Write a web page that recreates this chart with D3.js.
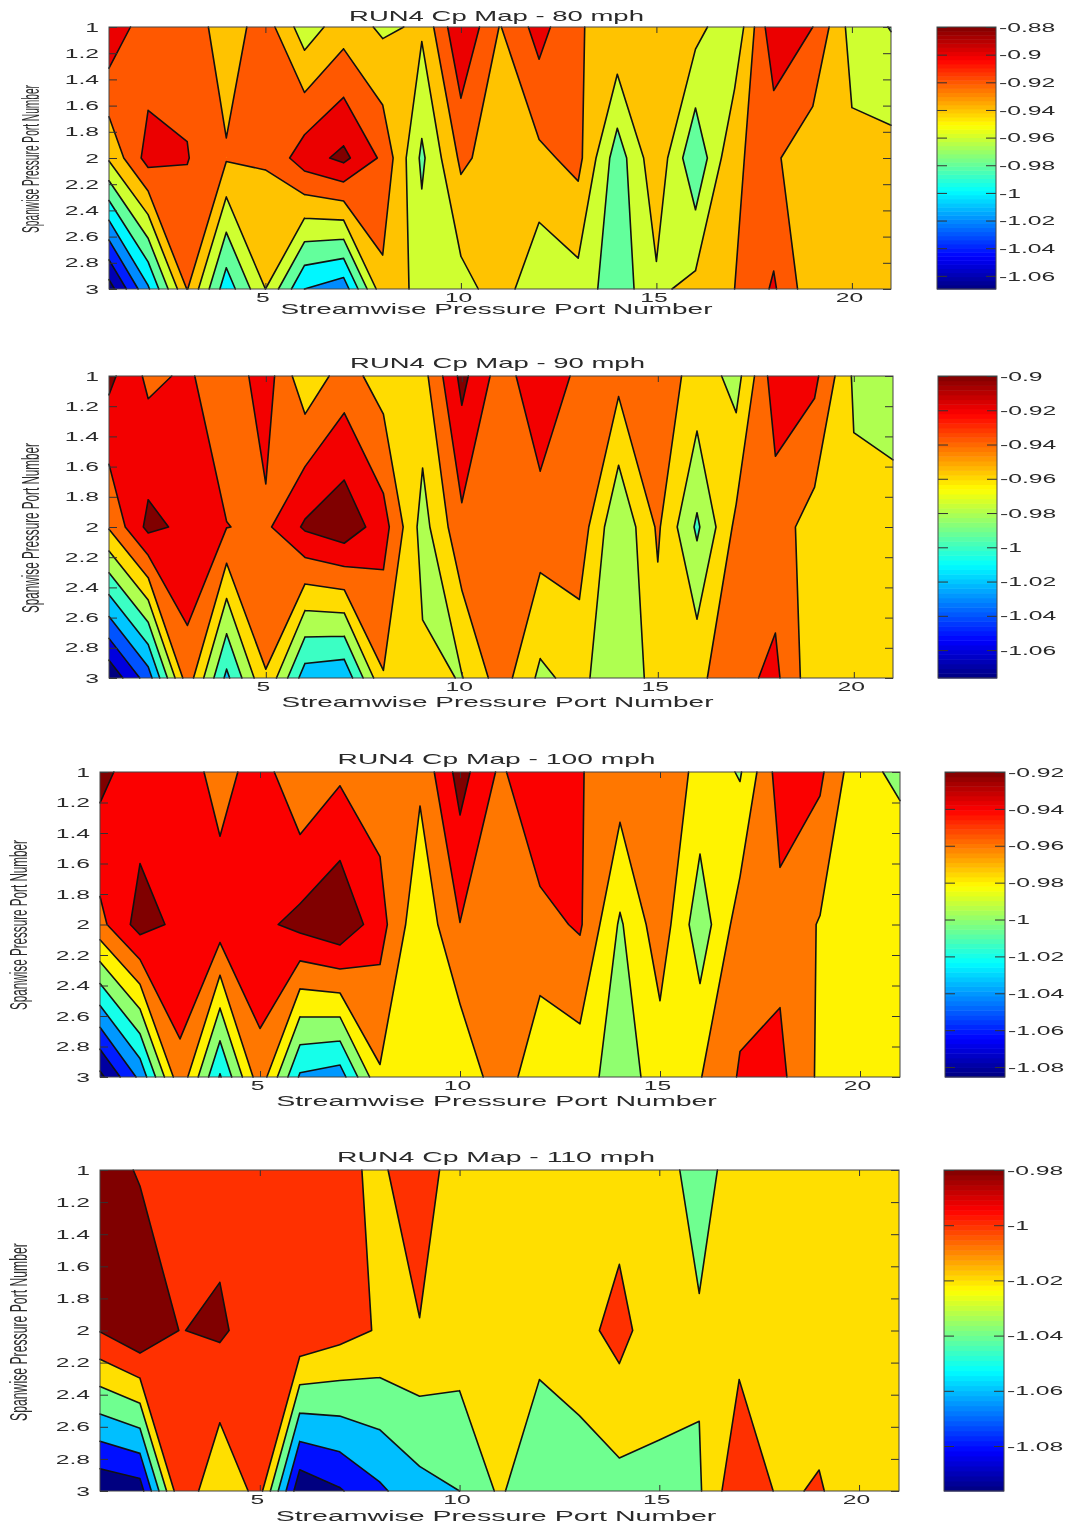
<!DOCTYPE html>
<html>
<head>
<meta charset="utf-8">
<script src="https://cdn.jsdelivr.net/npm/d3@7"></script>
<style>
body { margin: 0; background: #fff; }
svg { display: block; filter: blur(0.35px); }
text { font-family: "Liberation Sans", Arial, sans-serif; fill: #2a2a2a; }
.domain { display: none; }
.tick line { stroke: #333; }
</style>
</head>
<body>
<svg id="chart"></svg>
<script>
const width = 1076
const height = 1529

// Cp, rows are spanwise 1, 2, 3 and columns are ports 1-21
const cp80 = [
    [-.883,-.914,-.907,-.931,-.91,-.951,-.929,-.9435,-.937,-.881,-.921,-.892,-.9195,-.9225,-.93,-.9325,-.957,-.884,-.90,-.948,-.961],
    [-.937,-.892,-.899,-.918,-.918,-.889,-.875,-.904,-.964,-.916,-.93,-.9246,-.914,-.971,-.925,-.977,-.921,-.917,-.933,-.935,-.933],
    [-1.0695,-1.003,-.919,-.992,-.94,-1.0,-1.012,-.9256,-.947,-.948,-.93,-.956,-.948,-.972,-.944,-.934,-.92,-.8973,-.9345,-.935,-.935]
]
const cp90 = [
    [-.8946,-.9245,-.917,-.933,-.91,-.9545,-.931,-.9496,-.9475,-.894,-.93,-.904,-.925,-.934,-.93,-.9465,-.968,-.908,-.915,-.963,-.975],
    [-.938,-.8946,-.905,-.9195,-.924,-.897,-.886,-.9115,-.968,-.925,-.93,-.9294,-.928,-.978,-.937,-.9835,-.935,-.9306,-.949,-.955,-.948],
    [-1.0763,-1.03,-.928,-1.005,-.941,-1.011,-1.016,-.9415,-.955,-.961,-.93,-.9645,-.953,-.979,-.95,-.945,-.926,-.9155,-.954,-.955,-.95]
]
const cp100 = [
    [-.9134,-.9325,-.928,-.948,-.93,-.958,-.9437,-.95,-.9555,-.912,-.9435,-.922,-.939,-.9488,-.945,-.966,-.982,-.93,-.936,-.976,-.983],
    [-.946,-.9117,-.925,-.929,-.925,-.914,-.9029,-.932,-.9757,-.9404,-.95,-.946,-.9376,-.9827,-.948,-.992,-.95,-.946,-.9615,-.97,-.967],
    [-1.0854,-1.035,-.945,-1.022,-.947,-1.023,-1.03,-.9625,-.97,-.978,-.947,-.976,-.972,-.9888,-.972,-.961,-.938,-.935,-.964,-.97,-.97]
]
const cp110 = [
    [-.97,-.982,-.99,-.987,-.99,-.99,-.995,-1.004,-.985,-1.015,-1.015,-1.015,-1.015,-1.01,-1.0095,-1.03,-1.008,-1.01,-1.012,-1.012,-1.012],
    [-.979,-.962,-.9805,-.977,-.99,-.9817,-.992,-1.002,-1.0013,-1.008,-1.012,-1.0125,-1.007,-.993,-1.014,-1.017,-1.0075,-1.01,-1.012,-1.012,-1.012],
    [-1.0963,-1.09,-.985,-1.017,-.993,-1.095,-1.082,-1.0635,-1.047,-1.04,-1.017,-1.037,-1.0315,-1.027,-1.0228,-1.0223,-.983,-1.003,-.9982,-1.012,-1.012]
]

// contour levels, also the colorbar ticks
const levels80 = [-0.88,-0.9,-0.92,-0.94,-0.96,-0.98,-1,-1.02,-1.04,-1.06]
const levels90 = [-0.9,-0.92,-0.94,-0.96,-0.98,-1,-1.02,-1.04,-1.06]
const levels100 = [-0.92,-0.94,-0.96,-0.98,-1,-1.02,-1.04,-1.06,-1.08]
const levels110 = [-0.98,-1,-1.02,-1.04,-1.06,-1.08]

// saddle cells the reference splits against the cell mean: [column, row, level], zero based
const flips90 = [[8, 1, -0.96]]

const xTicks = [5, 10, 15, 20]
const yTicks = [1, 1.2, 1.4, 1.6, 1.8, 2, 2.2, 2.4, 2.6, 2.8, 3]
const titles = [
    'RUN4 Cp Map - 80 mph',
    'RUN4 Cp Map - 90 mph',
    'RUN4 Cp Map - 100 mph',
    'RUN4 Cp Map - 110 mph'
]

const xLabel = 'Streamwise Pressure Port Number'
const yLabel = 'Spanwise Pressure Port Number'

const grids = [cp80, cp90, cp100, cp110]
const levelSets = [levels80, levels90, levels100, levels110]
const flipSets = [[], flips90, [], []]

// where each panel sits on the page
const layout = [
    {l: 109, r: 891, t: 27, b: 289, cbL: 937, cbR: 996, yLabX: 31, yLabLen: 148, yLabC: 159, titleW: 295, xLabW: 432, titleY: 16, xLabY: 309},
    {l: 109, r: 893, t: 376, b: 678, cbL: 938, cbR: 997, yLabX: 31, yLabLen: 170, yLabC: 528, titleW: 295, xLabW: 432, titleY: 363, xLabY: 702},
    {l: 100, r: 900, t: 772, b: 1077, cbL: 945, cbR: 1005, yLabX: 19, yLabLen: 170, yLabC: 925, titleW: 318, xLabW: 441, titleY: 759, xLabY: 1101},
    {l: 100, r: 899, t: 1170, b: 1491, cbL: 944, cbR: 1004, yLabX: 19, yLabLen: 178, yLabC: 1332, titleW: 318, xLabW: 441, titleY: 1157, xLabY: 1516}
]

const stretch = 1.9

function jet(t) {
    const c = v => Math.round(255 * Math.max(0, Math.min(1, v)))
    const r = c(Math.min(4 * t - 1.5, -4 * t + 4.5))
    const g = c(Math.min(4 * t - 0.5, -4 * t + 3.5))
    const b = c(Math.min(4 * t + 0.5, -4 * t + 2.5))
    return `rgb(${r},${g},${b})`
}

// marching squares with straight lines in each cell, like contourf.
// d3.contours settles saddle cells one fixed way and the reference mostly uses the cell mean.
function contourPaths(grid, level, x, y, flips) {
    const fill = d3.path()
    const line = d3.path()

    const addPoly = poly => {
        poly.forEach((pt, i) => i ? fill.lineTo(pt[0], pt[1]) : fill.moveTo(pt[0], pt[1]))
        fill.closePath()
    }
    const addLine = (a, b) => {
        line.moveTo(a[0], a[1])
        line.lineTo(b[0], b[1])
    }

    for (let r = 0; r < grid.length - 1; r++) {
        for (let c = 0; c < grid[0].length - 1; c++) {
            const corners = [[c, r], [c + 1, r], [c + 1, r + 1], [c, r + 1]]
                .map(([i, j]) => ({px: x(i + 1), py: y(j + 1), v: grid[j][i]}))
            const above = corners.map(k => k.v >= level)
            const count = above.filter(Boolean).length
            if (count === 0) continue

            // walk round the cell, edge i runs from corner i to corner i + 1
            const walk = []
            const edges = []
            corners.forEach((a, i) => {
                const next = (i + 1) % 4
                const b = corners[next]
                if (above[i]) walk.push([a.px, a.py])
                if (above[i] !== above[next]) {
                    const t = (level - a.v) / (b.v - a.v)
                    edges[i] = [a.px + t * (b.px - a.px), a.py + t * (b.py - a.py)]
                    walk.push(edges[i])
                }
            })

            const saddle = count === 2 && above[0] === above[2]
            if (!saddle) {
                addPoly(walk)
                const hits = edges.filter(Boolean)
                if (hits.length === 2) addLine(hits[0], hits[1])
                continue
            }

            const flipped = flips.some(f => f[0] === c && f[1] === r && f[2] === level)
            const joined = (d3.mean(corners, k => k.v) >= level) !== flipped
            if (joined) addPoly(walk)
            corners.forEach((k, i) => {
                const prev = edges[(i + 3) % 4]
                // the line cuts off each corner on the side that stays separate
                if (above[i] !== joined) {
                    addLine(prev, edges[i])
                    if (!joined) addPoly([prev, [k.px, k.py], edges[i]])
                }
            })
        }
    }
    return {fill: fill.toString(), line: line.toString()}
}

const svg = d3.select('#chart')
    .attr('width', width)
    .attr('height', height)

grids.forEach((grid, i) => drawPanel(grid, levelSets[i], titles[i], layout[i], flipSets[i]))

function widen(sel, anchorX) {
    sel.selectAll('text')
        .attr('x', anchorX / stretch)
        .attr('transform', `scale(${stretch},1)`)
        .style('font-size', '13px')
}

function drawPanel(grid, levels, title, p, flips) {
    const cMin = d3.min(grid.flat())
    const cMax = levels[0]

    const x = d3.scaleLinear().domain([1, 21]).range([p.l, p.r])
    const y = d3.scaleLinear().domain([1, 3]).range([p.t, p.b])
    const colourT = v => (v - cMin) / (cMax - cMin)

    const g = svg.append('g')

    // MATLAB fills each region with the colour of its lower level
    const ascending = levels.slice().sort(d3.ascending)
    const bands = ascending.map(level => Object.assign({level}, contourPaths(grid, level, x, y, flips)))

    g.append('rect')
        .attr('x', p.l)
        .attr('y', p.t)
        .attr('width', p.r - p.l)
        .attr('height', p.b - p.t)
        .attr('fill', jet(0))

    g.append('g').selectAll('path')
        .data(bands)
        .join('path')
        .attr('d', d => d.fill)
        .attr('fill', d => jet(colourT(d.level)))

    g.append('g').selectAll('path')
        .data(bands)
        .join('path')
        .attr('d', d => d.line)
        .attr('fill', 'none')
        .attr('stroke', '#111')
        .attr('stroke-width', 1.6)
        .attr('stroke-linecap', 'round')

    // box and ticks
    const left = g.append('g')
        .attr('transform', `translate(${p.l},0)`)
        .call(d3.axisLeft(y).tickValues(yTicks).tickSizeInner(-8).tickSizeOuter(0).tickFormat(d => String(d)))
    widen(left, -10)

    const bottom = g.append('g')
        .attr('transform', `translate(0,${p.b})`)
        .call(d3.axisBottom(x).tickValues(xTicks).tickSizeInner(-6).tickSizeOuter(0).tickFormat(d => String(d)))
    bottom.selectAll('.tick text')
        .attr('x', -3 / stretch)
        .attr('y', 4)
        .attr('transform', `scale(${stretch},1)`)
        .style('font-size', '13px')

    g.append('g')
        .attr('transform', `translate(${p.r},0)`)
        .call(d3.axisRight(y).tickValues(yTicks).tickSizeInner(-8).tickSizeOuter(0).tickFormat(''))

    g.append('g')
        .attr('transform', `translate(0,${p.t})`)
        .call(d3.axisTop(x).tickValues(xTicks).tickSizeInner(-6).tickSizeOuter(0).tickFormat(''))

    g.append('rect')
        .attr('x', p.l)
        .attr('y', p.t)
        .attr('width', p.r - p.l)
        .attr('height', p.b - p.t)
        .attr('fill', 'none')
        .attr('stroke', '#444')

    // colorbar
    const cbY = d3.scaleLinear().domain([cMin, cMax]).range([p.b, p.t])
    const steps = d3.range(64)
    const stepV = (cMax - cMin) / 64

    g.append('g').selectAll('rect')
        .data(steps)
        .join('rect')
        .attr('x', p.cbL)
        .attr('width', p.cbR - p.cbL)
        .attr('y', d => cbY(cMin + (d + 1) * stepV))
        .attr('height', d => cbY(cMin + d * stepV) - cbY(cMin + (d + 1) * stepV) + 0.5)
        .attr('fill', d => jet((d + 0.5) / 64))

    const cbRight = g.append('g')
        .attr('transform', `translate(${p.cbR},0)`)
        .call(d3.axisRight(cbY).tickValues(levels).tickSizeInner(-10).tickSizeOuter(0).tickFormat(d => String(d)))
    widen(cbRight, 3)

    g.append('g')
        .attr('transform', `translate(${p.cbL},0)`)
        .call(d3.axisLeft(cbY).tickValues(levels).tickSizeInner(-10).tickSizeOuter(0).tickFormat(''))

    g.append('rect')
        .attr('x', p.cbL)
        .attr('y', p.t)
        .attr('width', p.cbR - p.cbL)
        .attr('height', p.b - p.t)
        .attr('fill', 'none')
        .attr('stroke', '#444')

    // titles, the source image is stretched wide so squeeze or widen to the measured length
    const midX = (p.l + p.r) / 2 - 3.5

    fitText(g.append('text').style('font-size', '14px').text(title), midX, p.titleY, p.titleW, 0)
    fitText(g.append('text').style('font-size', '14px').text(xLabel), midX, p.xLabY, p.xLabW, 0)
    fitText(g.append('text').style('font-size', '24px').text(yLabel), p.yLabX, p.yLabC, p.yLabLen, -90)
}

function fitText(t, cx, cy, len, angle) {
    const natural = t.node().getComputedTextLength()
    t.attr('text-anchor', 'middle')
        .attr('dy', '0.35em')
        .attr('transform', `translate(${cx},${cy}) rotate(${angle}) scale(${len / natural},1)`)
}
</script>
</body>
</html>
